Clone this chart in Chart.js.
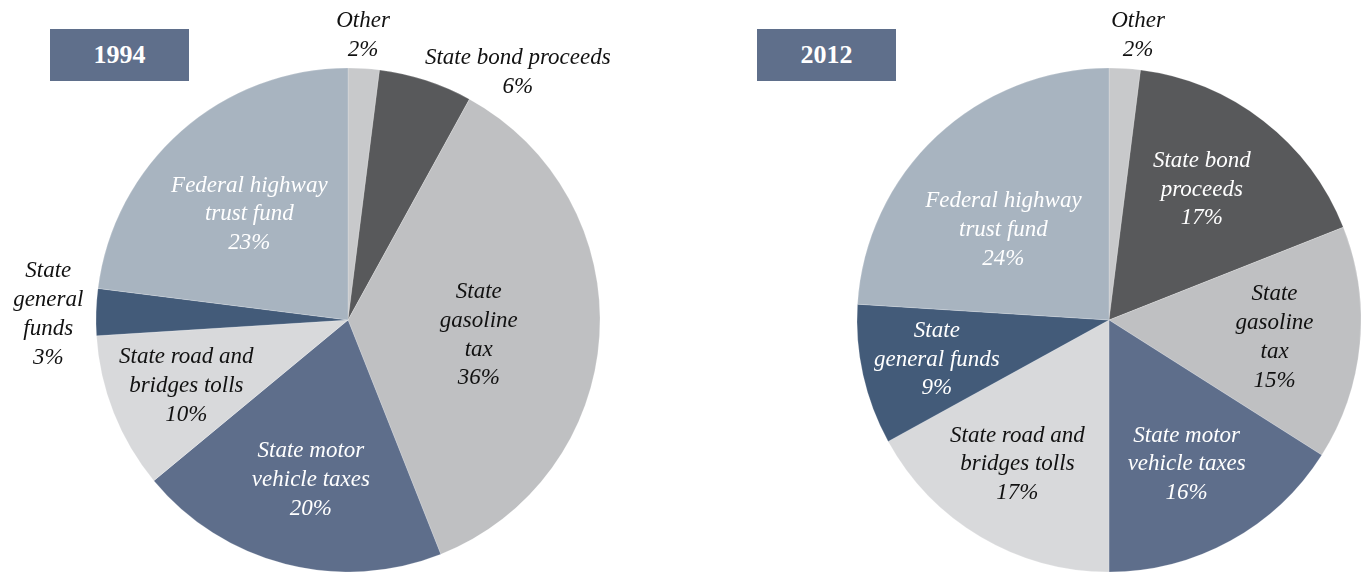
<!DOCTYPE html>
<html lang="en">
<head>
  <meta charset="UTF-8">
  <title>Highway funding sources 1994 vs 2012</title>
  <script src="https://cdn.jsdelivr.net/npm/chart.js"></script>
  <style>
    body {
      margin: 0;
      background: #ffffff;
      width: 1361px;
      height: 572px;
      overflow: hidden;
      position: relative;
      font-family: "Liberation Serif", serif;
    }
    .pie {
      position: absolute;
      top: 0;
      height: 572px;
    }
    #pie1994 { left: 0; width: 680px; }
    #pie2012 { left: 680px; width: 681px; }
    .year {
      position: absolute;
      top: 29px;
      width: 139px;
      height: 52px;
      line-height: 52px;
      background: #5f6f8b;
      color: #ffffff;
      font-weight: bold;
      font-size: 26px;
      text-align: center;
    }
  </style>
</head>
<body>
  <div class="pie" id="pie1994"><canvas id="chart1994"></canvas></div>
  <div class="pie" id="pie2012"><canvas id="chart2012"></canvas></div>
  <div class="year" style="left:50px">1994</div>
  <div class="year" style="left:757px">2012</div>

  <script>
    const categories = [
      'Other', 'State bond proceeds', 'State gasoline tax', 'State motor vehicle taxes',
      'State road and bridges tolls', 'State general funds', 'Federal highway trust fund'
    ];
    const share1994 = [2, 6, 36, 20, 10, 3, 23];
    const share2012 = [2, 17, 15, 16, 17, 9, 24];

    // label text, split the way the original wraps it
    const lines1994 = [
      ['Other', '2%'],
      ['State bond proceeds', '6%'],
      ['State', 'gasoline', 'tax', '36%'],
      ['State motor', 'vehicle taxes', '20%'],
      ['State road and', 'bridges tolls', '10%'],
      ['State', 'general', 'funds', '3%'],
      ['Federal highway', 'trust fund', '23%']
    ];
    const lines2012 = [
      ['Other', '2%'],
      ['State bond', 'proceeds', '17%'],
      ['State', 'gasoline', 'tax', '15%'],
      ['State motor', 'vehicle taxes', '16%'],
      ['State road and', 'bridges tolls', '17%'],
      ['State', 'general funds', '9%'],
      ['Federal highway', 'trust fund', '24%']
    ];

    const sliceColors = ['#c8c9cb', '#58595b', '#bfc0c2', '#5e6e8b', '#d8d9db', '#435b79', '#a8b4c0'];

    // label placement: fraction of radius along the mid angle, plus a nudge
    const place1994 = [
      { f: 1.14, dx: -3, dy: 2, c: '#111' },
      { f: 1.05, dx: 88, dy: 4, c: '#111' },
      { f: 0.52, dx: 0, dy: 7, c: '#111' },
      { f: 0.64, dx: 3, dy: 4, c: '#fff' },
      { f: 0.69, dx: 0, dy: 2, c: '#111' },
      { f: 1.19, dx: 0, dy: 4, c: '#111' },
      { f: 0.58, dx: -2, dy: 4, c: '#fff' }
    ];
    const place2012 = [
      { f: 1.14, dx: 11, dy: 2, c: '#111' },
      { f: 0.64, dx: -6, dy: -3, c: '#fff' },
      { f: 0.66, dx: 0, dy: 2, c: '#111' },
      { f: 0.64, dx: 0, dy: 3, c: '#fff' },
      { f: 0.675, dx: -5, dy: -2, c: '#111' },
      { f: 0.70, dx: 0, dy: 1, c: '#fff' },
      { f: 0.56, dx: -9, dy: 13, c: '#fff' }
    ];

    const LINE_H = 28.8;

    const sliceLabels = {
      id: 'sliceLabels',
      afterDatasetsDraw(chart, args, opts) {
        const ctx = chart.ctx;
        const arcs = chart.getDatasetMeta(0).data;
        ctx.save();
        ctx.font = 'italic 23px "Liberation Serif"';
        ctx.textAlign = 'center';
        ctx.textBaseline = 'middle';
        arcs.forEach((arc, i) => {
          const p = arc.getProps(['x', 'y', 'startAngle', 'endAngle', 'outerRadius'], true);
          const mid = (p.startAngle + p.endAngle) / 2;
          const pl = opts.place[i];
          const cx = p.x + Math.cos(mid) * p.outerRadius * pl.f + pl.dx;
          const cy = p.y + Math.sin(mid) * p.outerRadius * pl.f + pl.dy;
          const lines = opts.lines[i];
          ctx.fillStyle = pl.c;
          lines.forEach((t, k) => {
            ctx.fillText(t, cx, cy + (k - (lines.length - 1) / 2) * LINE_H);
          });
        });
        ctx.restore();
      }
    };

    function makePie(id, values, lines, place, padding) {
      new Chart(document.getElementById(id), {
        type: 'pie',
        data: {
          labels: categories,
          datasets: [{
            data: values,
            backgroundColor: sliceColors,
            borderColor: 'rgba(255,255,255,0.2)',
            borderWidth: 1
          }]
        },
        options: {
          responsive: true,
          maintainAspectRatio: false,
          animation: false,
          radius: 252,
          layout: { padding: padding },
          plugins: {
            legend: { display: false },
            tooltip: { enabled: false },
            sliceLabels: { lines: lines, place: place }
          }
        },
        plugins: [sliceLabels]
      });
    }

    makePie('chart1994', share1994, lines1994, place1994, { left: 96, right: 80, top: 68, bottom: 0 });
    makePie('chart2012', share2012, lines2012, place2012, { left: 177, right: 0, top: 68, bottom: 0 });
  </script>
</body>
</html>
